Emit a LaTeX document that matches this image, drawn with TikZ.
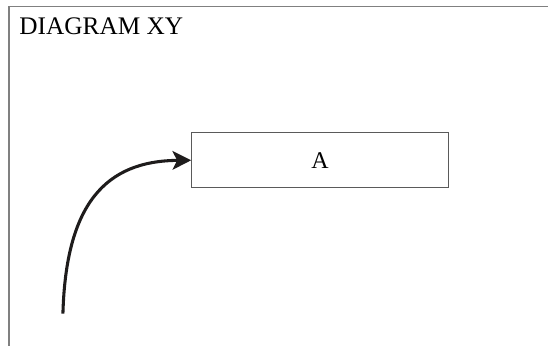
\documentclass[tikz,border=0pt]{standalone}
\usepackage{fontspec}
\setmainfont{Liberation Serif}
\usetikzlibrary{arrows.meta}

\tikzset{every picture/.style={line width=0.75pt}}

\begin{document}
\begin{tikzpicture}[x=0.75pt,y=0.75pt,yscale=-1,xscale=1]
\path (0,0) rectangle (549,346); %set diagram size

%Straight Lines [id:frame top]
\draw [color={rgb, 255:red, 128; green, 128; blue, 128 }, line width=1.1]   (9,6.5) -- (549,6.5) ;
%Straight Lines [id:frame left]
\draw [color={rgb, 255:red, 128; green, 128; blue, 128 }, line width=1.1]   (9,6.5) -- (9,346) ;

%Shape: Rectangle [id:boxA]
\node (boxA) [draw={rgb, 255:red, 90; green, 90; blue, 90 }, line width=0.9, minimum width=192.75pt, minimum height=41.25pt, inner sep=0pt, font=\fontsize{18}{21}\selectfont] at (320.5,160.5) {A};

%Curve Lines [id:arrow]
\coordinate (start) at (63,314);
\draw [color={rgb, 255:red, 30; green, 28; blue, 28 }, line width=2.3, -{Stealth[length=14pt,width=14pt,inset=3.5pt]}]   (start) .. controls (66,205) and (105,161) .. (boxA.west) ;

% Text Node
\node (title) [anchor=base west, inner sep=0pt, font=\fontsize{19}{22}\selectfont] at (19,35) {DIAGRAM XY};

\end{tikzpicture}
\end{document}
